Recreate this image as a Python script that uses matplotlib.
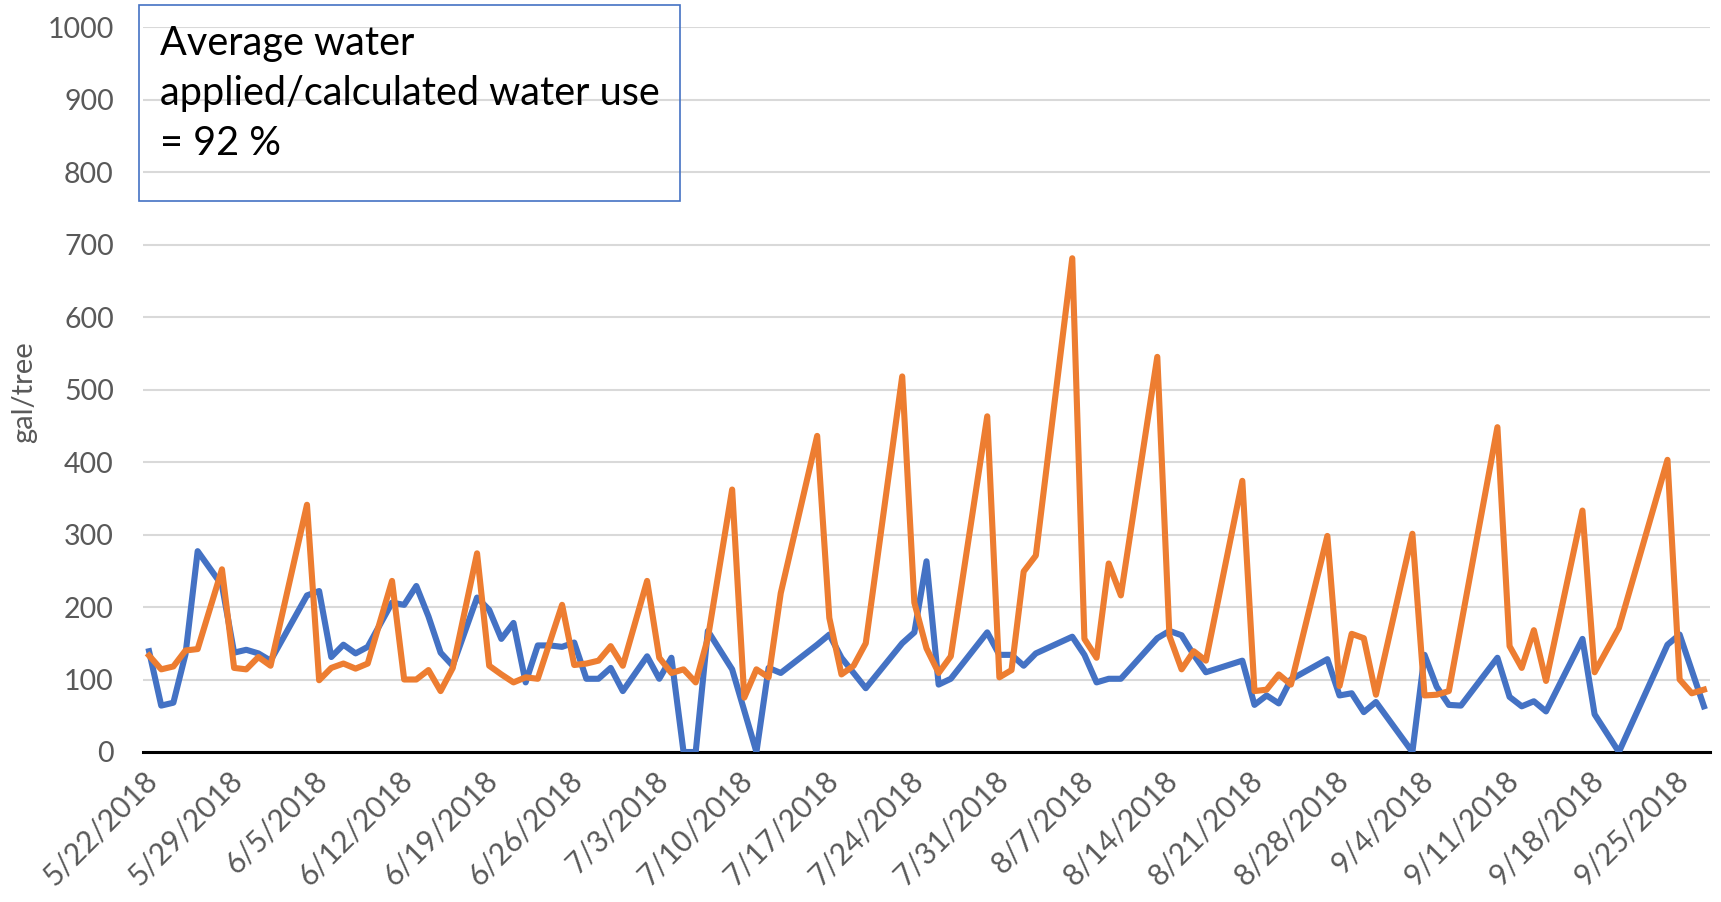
import datetime as dt
import matplotlib
matplotlib.use("Agg")
import matplotlib.pyplot as plt
import matplotlib.dates as mdates
from matplotlib.patches import Rectangle
from matplotlib.ticker import FuncFormatter, MultipleLocator
from matplotlib.transforms import ScaledTranslation

plt.rcParams['font.family'] = ['Lato', 'DejaVu Sans']

## Data (2018, gal/tree)
# blue series
blue_dates = ["5/22", "5/23", "5/24", "5/25", "5/26", "5/28", "5/29", "5/30", "5/31", "6/1",
              "6/4", "6/5", "6/6", "6/7", "6/8", "6/9", "6/11", "6/12", "6/13", "6/14",
              "6/15", "6/16", "6/18", "6/19", "6/20", "6/21", "6/22", "6/23", "6/24", "6/25",
              "6/26", "6/27", "6/28", "6/29", "6/30", "7/2", "7/3", "7/4", "7/5", "7/6",
              "7/7", "7/9", "7/11", "7/12", "7/13", "7/16", "7/17", "7/18", "7/20", "7/23",
              "7/24", "7/25", "7/26", "7/27", "7/30", "7/31", "8/1", "8/2", "8/3", "8/6",
              "8/7", "8/8", "8/9", "8/10", "8/13", "8/14", "8/15", "8/16", "8/17", "8/20",
              "8/21", "8/22", "8/23", "8/24", "8/27", "8/28", "8/29", "8/30", "8/31", "9/3",
              "9/4", "9/5", "9/6", "9/7", "9/10", "9/11", "9/12", "9/13", "9/14", "9/17",
              "9/18", "9/20", "9/24", "9/25", "9/27"]
blue_values = [139, 64, 68, 135, 277, 230, 137, 141, 136, 126,
               216, 222, 131, 148, 136, 145, 206, 203, 229, 187,
               137, 119, 213, 196, 156, 178, 96, 147, 147, 145,
               151, 101, 101, 116, 84, 132, 101, 130, 0, 0,
               167, 114, 0, 116, 109, 148, 162, 130, 88, 150,
               165, 263, 93, 101, 165, 134, 134, 119, 136, 159,
               134, 96, 101, 101, 157, 167, 161, 134, 110, 126,
               65, 78, 67, 100, 128, 78, 81, 55, 69, 0,
               134, 90, 65, 64, 130, 76, 63, 70, 56, 156,
               52, 0, 148, 162, 63]

# orange series
orange_dates = ["5/22", "5/23", "5/24", "5/25", "5/26", "5/28", "5/29", "5/30", "5/31", "6/1",
                "6/4", "6/5", "6/6", "6/7", "6/8", "6/9", "6/11", "6/12", "6/13", "6/14",
                "6/15", "6/16", "6/18", "6/19", "6/20", "6/21", "6/22", "6/23", "6/25", "6/26",
                "6/27", "6/28", "6/29", "6/30", "7/2", "7/3", "7/4", "7/5", "7/6", "7/7",
                "7/9", "7/10", "7/11", "7/12", "7/13", "7/16", "7/17", "7/18", "7/19", "7/20",
                "7/23", "7/24", "7/25", "7/26", "7/27", "7/30", "7/31", "8/1", "8/2", "8/3",
                "8/6", "8/7", "8/8", "8/9", "8/10", "8/13", "8/14", "8/15", "8/16", "8/17",
                "8/20", "8/21", "8/22", "8/23", "8/24", "8/27", "8/28", "8/29", "8/30", "8/31",
                "9/3", "9/4", "9/5", "9/6", "9/10", "9/11", "9/12", "9/13", "9/14", "9/17",
                "9/18", "9/20", "9/24", "9/25", "9/26", "9/27"]
orange_values = [133, 114, 118, 140, 142, 252, 116, 114, 131, 119,
                 341, 99, 116, 122, 115, 122, 236, 100, 100, 113,
                 84, 116, 274, 119, 107, 96, 103, 101, 203, 120,
                 122, 126, 146, 119, 236, 130, 109, 114, 96, 157,
                 362, 75, 114, 103, 219, 436, 185, 107, 119, 150,
                 518, 206, 143, 109, 132, 463, 103, 113, 249, 271,
                 681, 156, 130, 260, 216, 545, 160, 114, 139, 126,
                 374, 84, 86, 107, 93, 298, 91, 163, 157, 79,
                 301, 78, 79, 84, 448, 146, 116, 168, 98, 333,
                 110, 171, 403, 100, 81, 86]

note_text = "Average water\napplied/calculated water use\n= 92 %"
y_label = "gal/tree"


def to_date(s):
    m, d = s.split("/")
    return dt.datetime(2018, int(m), int(d))


def date_label(x, pos):
    d = mdates.num2date(x)
    return f"{d.month}/{d.day}/{d.year}"


blue_x = [to_date(s) for s in blue_dates]
orange_x = [to_date(s) for s in orange_dates]

W, H = 1721, 902
fig = plt.figure(figsize=(W / 100, H / 100), dpi=100)
ax = fig.add_axes([143 / W, 1 - 752 / H, (1710 - 143) / W, (752 - 27) / H])

ax.plot(blue_x, blue_values, color='#4472C4', lw=4.4, solid_joinstyle='round', zorder=3)
ax.plot(orange_x, orange_values, color='#ED7D31', lw=4.4, solid_joinstyle='round', zorder=4)

# axes styling
start = to_date("5/22")
ax.set_xlim(start - dt.timedelta(hours=12), to_date("9/27") + dt.timedelta(hours=12))
ax.set_ylim(0, 1000)
ax.yaxis.set_major_locator(MultipleLocator(100))
ticks = [start + dt.timedelta(days=7 * i) for i in range(19)]
ax.set_xticks(ticks)
ax.xaxis.set_major_formatter(FuncFormatter(date_label))
ax.grid(axis='y', color='#D9D9D9', lw=1.5, zorder=0)
for side in ['top', 'right', 'left']:
    ax.spines[side].set_visible(False)
ax.spines['bottom'].set_color('black')
ax.spines['bottom'].set_linewidth(2.2)
ax.spines['bottom'].set_zorder(2)
ax.tick_params(axis='both', length=0, colors='#595959')
ax.tick_params(axis='y', pad=21, labelsize=20.5)
ax.tick_params(axis='x', pad=8, labelsize=21.5)
shift = ScaledTranslation(-6 / 100, -3 / 100, fig.dpi_scale_trans)
for lbl in ax.get_xticklabels():
    lbl.set_rotation(45)
    lbl.set_ha('right')
    lbl.set_va('top')
    lbl.set_rotation_mode('anchor')
    lbl.set_transform(lbl.get_transform() + shift)

# y axis title
fig.text(24 / W, 1 - 392 / H, y_label, rotation=90, color='#595959', fontsize=21,
         ha='center', va='center')

# annotation box
fig.patches.append(Rectangle((139 / W, 1 - 201 / H), 541 / W, 196 / H, transform=fig.transFigure,
                             fill=False, edgecolor='#4472C4', lw=1.2))
fig.text(160 / W, 1 - 25 / H, note_text, fontsize=28.5, va='top', ha='left', linespacing=1.44)

fig.savefig('out.png', dpi=100)
